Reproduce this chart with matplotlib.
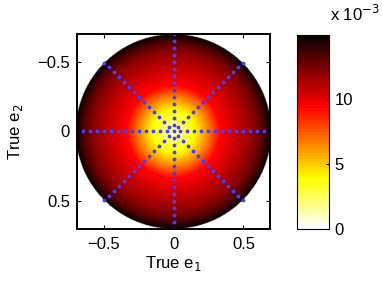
import numpy as np
from matplotlib import pyplot as plt

plt.rcParams['font.family'] = ['Liberation Sans', 'DejaVu Sans']

# radial profile of the field
radius = [0.0, 0.05, 0.1, 0.15, 0.25, 0.33, 0.45, 0.57, 0.64, 0.7]
level = [1.4e-3, 1.9e-3, 3.0e-3, 3.8e-3, 6.7e-3, 9.3e-3, 10.6e-3, 11.9e-3, 13.2e-3, 14.9e-3]

# sample points along eight rays
ray_angles = [0, 45, 90, 135, 180, 225, 270, 315]
ray_steps = [0.05, 0.1, 0.15, 0.2, 0.25, 0.3, 0.35, 0.4, 0.45,
             0.5, 0.55, 0.6, 0.65, 0.7]

cb_ticks = [0, 5e-3, 10e-3]
cb_labels = ['0', '5', '10']

n = 400
g = np.linspace(-0.7, 0.7, n)
xx, yy = np.meshgrid(g, g)
rr = np.hypot(xx, yy)
field = np.interp(rr, radius, level)
field[rr > 0.7] = np.nan

fig = plt.figure(figsize=(3.82, 2.84), dpi=100)
ax = fig.add_axes([0.2016, 0.1937, 0.5052, 0.6866])
cax = fig.add_axes([0.7775, 0.1937, 0.0838, 0.6831])

cmap = plt.get_cmap('hot_r', 64)
im = ax.imshow(field, cmap=cmap, vmin=0, vmax=0.0149,
               extent=[-0.7, 0.7, 0.7, -0.7], origin='upper',
               interpolation='bilinear', aspect='auto')

px = [0.0]
py = [0.0]
for a in ray_angles:
    t = np.deg2rad(a)
    for s in ray_steps:
        px.append(s * np.cos(t))
        py.append(s * np.sin(t))
ax.plot(px, py, '.', color='#4040ff', markersize=3.5)

fs = 12
ax.set_xlim(-0.69, 0.69)
ax.set_ylim(0.7, -0.7)
ax.set_xticks([-0.5, 0, 0.5])
ax.set_yticks([-0.5, 0, 0.5])
ax.set_xticklabels(['\u22120.5', '0', '0.5'])
ax.set_yticklabels(['\u22120.5', '0', '0.5'])
ax.tick_params(direction='in', length=3, labelsize=fs, top=True, right=True)
ax.tick_params(axis='x', pad=6)
ax.tick_params(axis='y', pad=5)
for sp in ax.spines.values():
    sp.set_linewidth(1.4)
ax.set_xlabel('True e$_1$', fontsize=fs, labelpad=1)
ax.set_ylabel('True e$_2$', fontsize=fs, labelpad=9)

cb = fig.colorbar(im, cax=cax, ticks=cb_ticks)
cb.ax.set_yticklabels(cb_labels)
cb.ax.tick_params(direction='in', length=2, labelsize=fs, pad=4)
cb.outline.set_linewidth(0.8)
fig.text(0.865, 0.915, 'x 10$^{-3}$', fontsize=fs, ha='left', va='bottom')

fig.savefig('out.png', dpi=100)
